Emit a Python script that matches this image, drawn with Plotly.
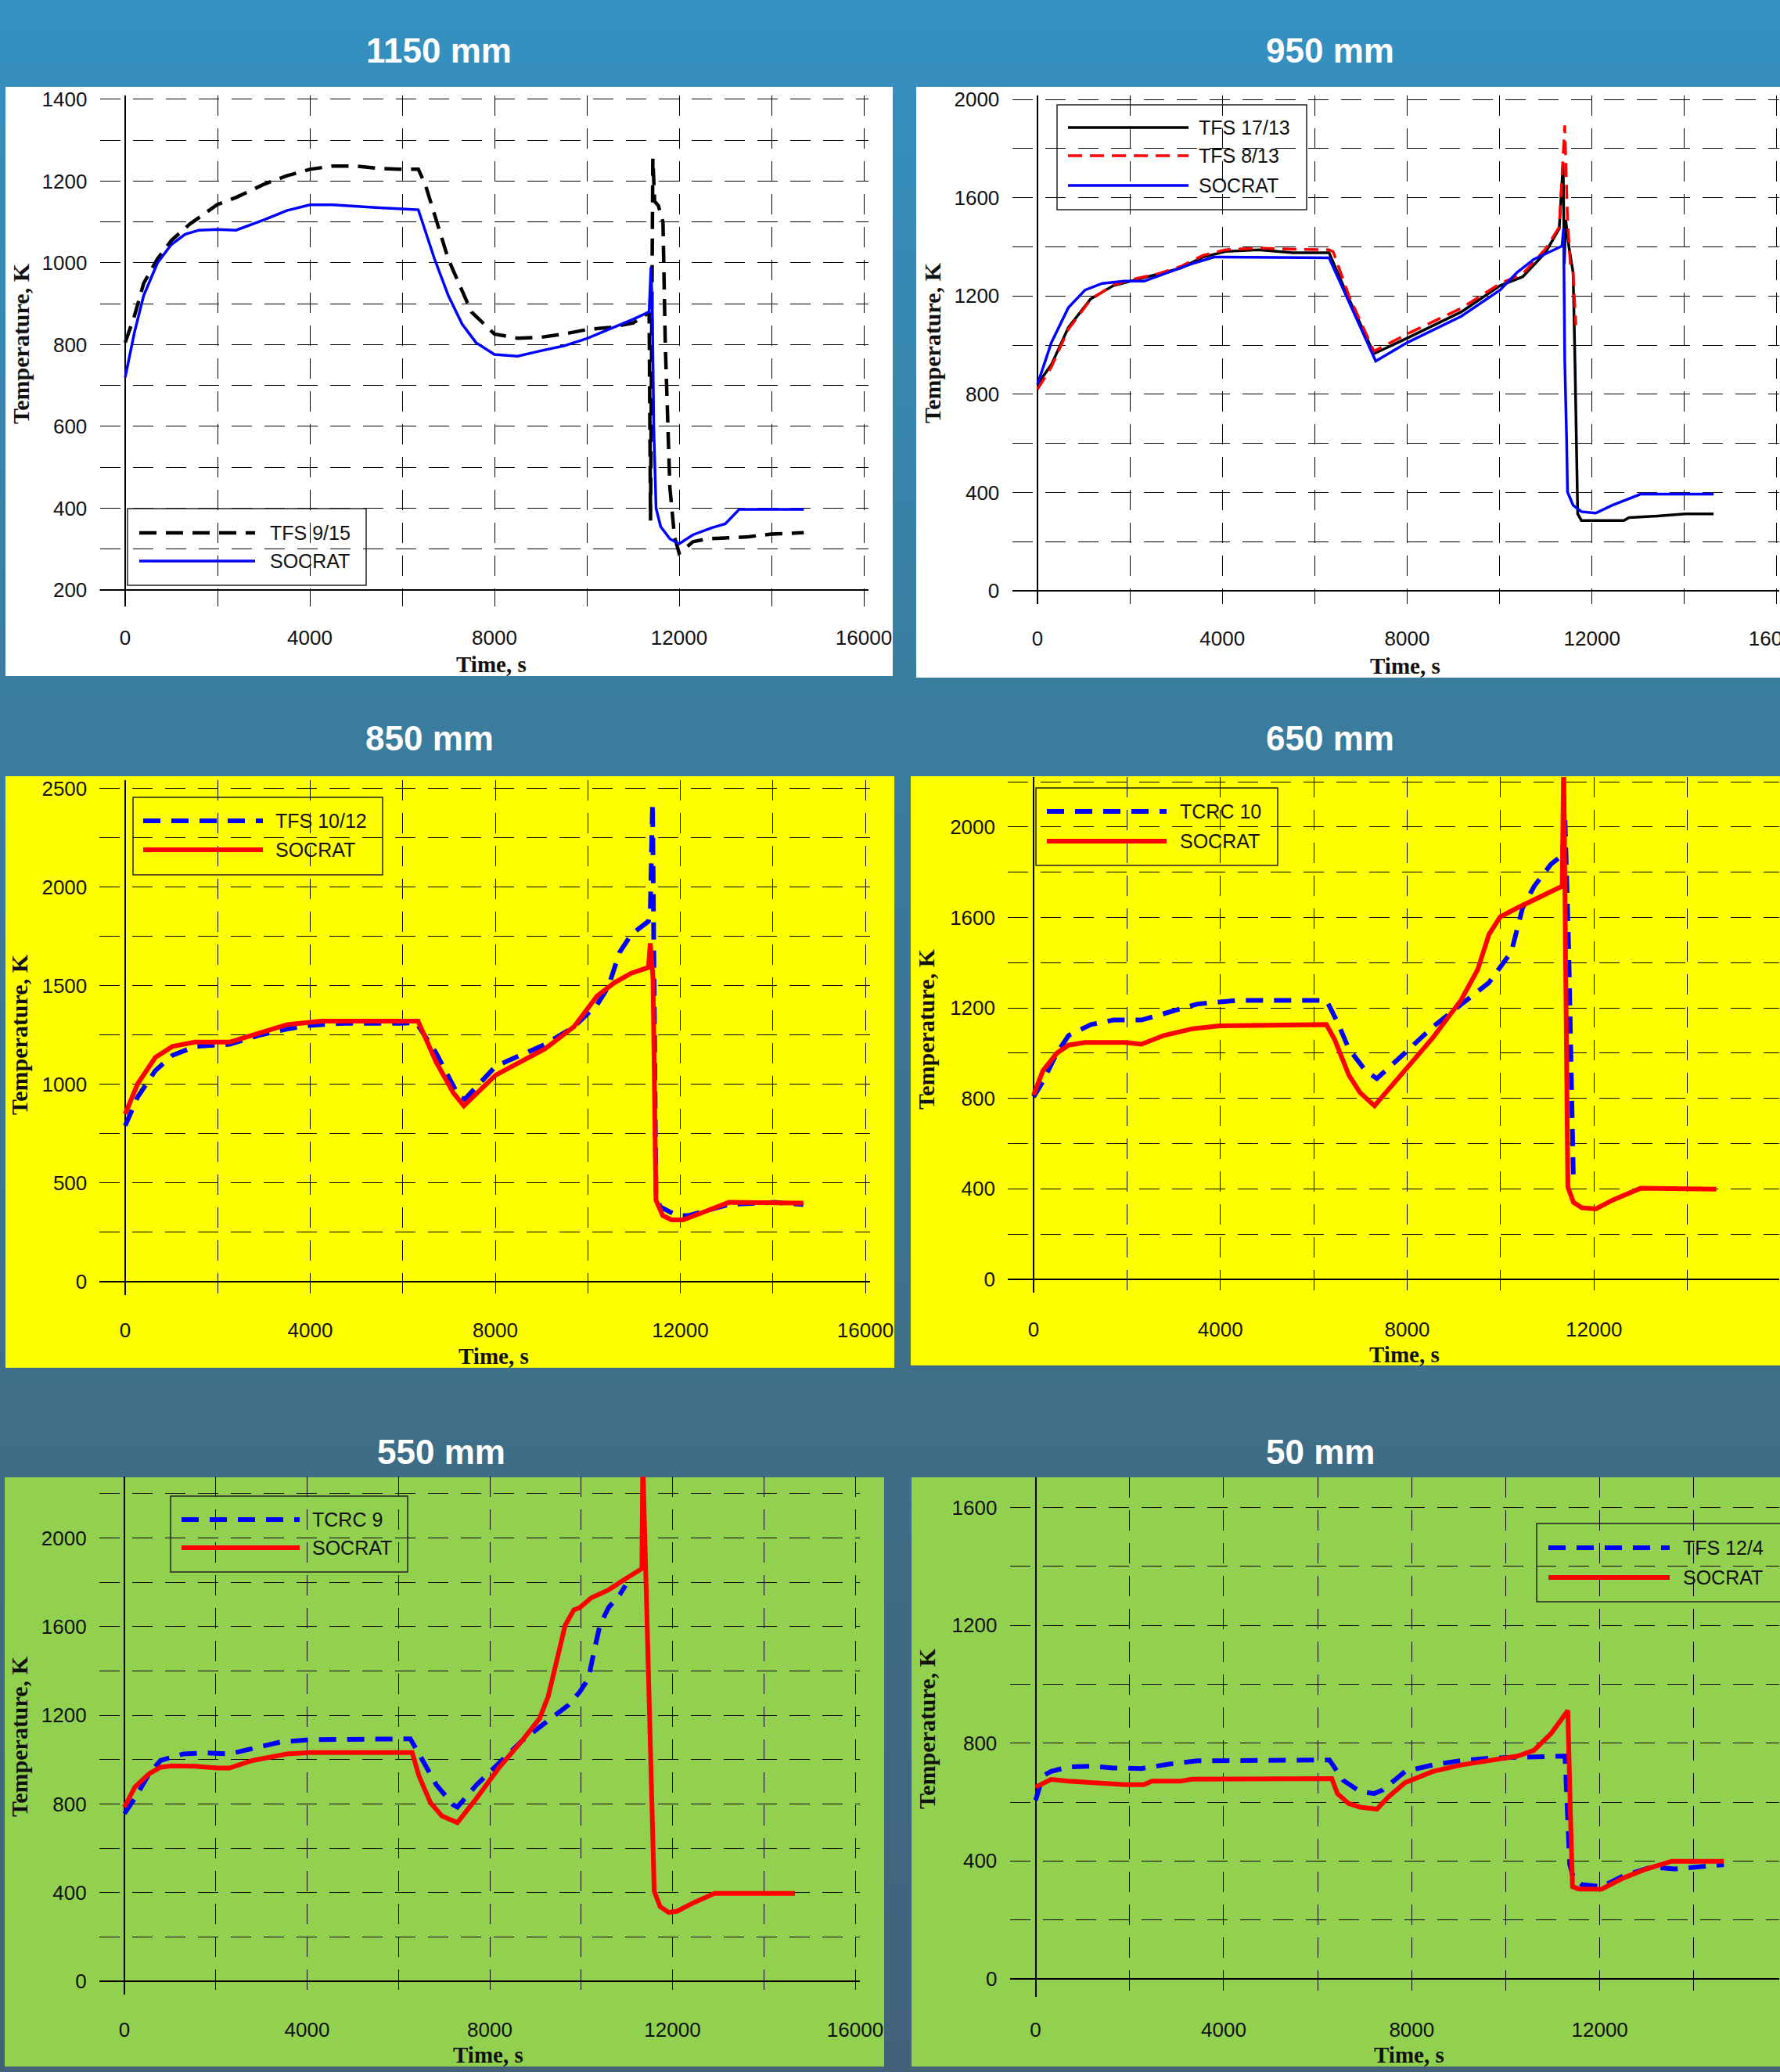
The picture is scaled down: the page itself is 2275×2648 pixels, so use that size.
import plotly.graph_objects as go

# ---------------- DATA ----------------
# 1150 mm
p1_tfs_t = [0,200,400,700,1000,1400,2000,2400,3000,3500,4000,4500,5000,5500,6000,6350,6500,7000,7500,8000,8500,9000,9500,10000,10500,11000,11300,11350,11380,11400,11430,11470,11550,11650,11700,11800,11900,12000,12100,12300,12600,13000,13500,14000,14700]
p1_tfs_T = [805,870,950,1010,1055,1095,1143,1160,1192,1213,1229,1237,1237,1231,1229,1229,1192,1009,880,826,816,818,826,837,842,853,875,880,370,900,1255,1150,1140,1100,800,450,330,290,300,318,325,328,330,337,340]
p1_soc_t = [0,200,400,700,1000,1300,1600,2000,2400,3000,3500,4000,4500,5000,5500,6000,6350,6700,7000,7300,7600,8000,8500,9000,9500,10000,10500,11000,11350,11390,11420,11450,11500,11600,11800,12000,12300,12700,13000,13300,14700]
p1_soc_T = [720,830,920,1000,1045,1070,1080,1082,1080,1105,1128,1142,1142,1138,1135,1132,1130,1010,920,850,805,776,772,785,797,815,838,862,880,990,880,600,400,355,325,313,335,352,362,397,397]

# 950 mm
p2_tfs17_t = [0,300,670,1150,1640,2120,2610,3100,3580,4070,4790,5520,6310,6740,7280,8000,9170,10010,10500,10990,11290,11375,11400,11430,11500,11590,11627,11690,11770,12690,12800,13410,14020,14630]
p2_tfs17_T = [840,920,1072,1188,1242,1265,1287,1313,1358,1381,1388,1376,1376,1188,965,1028,1135,1242,1278,1376,1474,1742,1331,1510,1400,1296,974,313,286,286,298,304,313,313]
p2_tfs8_t = [0,300,670,1150,1640,2120,2610,3100,3580,4070,4790,5520,6310,6400,6740,7280,8000,9170,10010,10500,10990,11290,11410,11470,11530,11590,11650]
p2_tfs8_T = [820,910,1065,1185,1245,1270,1290,1320,1365,1388,1395,1390,1388,1380,1200,975,1045,1150,1250,1290,1390,1480,1894,1510,1331,1296,1081]
p2_soc_t = [0,300,670,1030,1400,1880,2310,2850,3340,3820,4000,6310,7320,8000,9170,10010,10380,10740,11350,11385,11410,11450,11470,11590,11770,12080,12440,13050,14630]
p2_soc_T = [840,1010,1153,1224,1251,1260,1260,1296,1331,1358,1358,1355,935,1010,1117,1224,1296,1349,1403,1475,938,617,402,348,322,316,348,393,393]

# 850 mm
p3_tfs_t = [0,270,650,1020,1510,2010,2260,2880,3500,3990,4740,5980,6290,6720,7220,7340,8010,9080,9700,10200,10440,10690,10940,11310,11350,11400,11435,11473,11560,11930,12180,12680,13050,14040,14660]
p3_tfs_T = [790,936,1069,1147,1192,1203,1203,1248,1281,1299,1310,1310,1314,1159,936,924,1092,1203,1292,1404,1493,1671,1760,1827,1871,2428,1448,446,379,334,334,368,390,401,390]
p3_soc_t = [0,270,650,1020,1510,2260,2880,3500,4240,6230,6330,6720,7090,7320,8010,9080,9700,10200,10570,10940,11310,11350,11410,11473,11620,11810,12060,12550,13050,14660]
p3_soc_T = [850,1003,1136,1192,1214,1214,1259,1303,1321,1321,1321,1114,958,891,1047,1181,1292,1448,1515,1564,1593,1716,1537,412,334,312,312,356,401,397]

# 650 mm
p4_tcrc_t = [0,200,500,750,1230,1710,2310,2910,3510,4350,6270,6510,6750,7110,7350,7950,8550,9150,9750,10230,10470,10720,11080,11320,11380,11460,11530,11560]
p4_tcrc_T = [806,874,1000,1078,1126,1146,1146,1184,1217,1233,1233,1136,1019,922,887,1000,1116,1214,1311,1447,1641,1738,1835,1874,2029,1447,864,437]
p4_soc_t = [0,200,500,750,1100,1950,2310,2790,3390,3990,6270,6450,6750,6990,7300,7950,8550,9150,9510,9750,9990,10350,10840,11320,11350,11390,11440,11560,11740,12040,12400,13000,14620]
p4_soc_T = [815,922,1000,1035,1047,1047,1039,1078,1107,1120,1126,1058,903,825,767,922,1068,1233,1369,1524,1602,1641,1689,1738,2300,1200,408,340,316,311,350,402,398]

# 550 mm
p5_tcrc_t = [0,230,540,790,1300,1800,2300,2800,3430,4060,6260,6450,6830,7200,7290,7710,8210,8710,9210,9720,9970,10160,10280,10410,10600,10850,10970]
p5_tcrc_T = [756,826,936,996,1026,1030,1026,1050,1080,1090,1094,1026,886,796,786,886,986,1086,1166,1246,1306,1366,1486,1606,1686,1746,1786]
p5_soc_t = [0,230,540,790,1040,1550,2050,2300,2800,3180,3560,4060,6300,6450,6700,6950,7290,7710,8210,8710,9090,9280,9460,9650,9840,9970,10220,10600,10970,11330,11350,11450,11540,11600,11730,11920,12100,12480,12920,14680]
p5_soc_T = [786,876,936,966,972,970,962,962,996,1010,1026,1032,1032,926,806,746,716,826,966,1086,1186,1286,1446,1606,1676,1686,1730,1766,1816,1862,2350,1526,726,406,336,310,316,356,396,396]

# 50 mm
p6_tfs_t = [0,155,330,690,1170,1650,2250,2840,3440,4000,6250,6540,6900,7200,7380,7860,8450,9050,9650,10250,10840,11260,11320,11360,11440,11620,12040,12510,13110,13590,14070,14640]
p6_tfs_T = [606,689,704,719,722,716,714,729,740,740,743,674,636,629,641,704,726,741,749,752,756,756,538,388,343,320,313,350,380,373,380,388]
p6_soc_t = [0,330,690,1890,2300,2480,3080,3320,6300,6420,6660,6900,7260,7500,7860,8450,9050,9650,10250,10600,10960,11200,11320,11380,11420,11560,12040,12510,12990,13530,14640]
p6_soc_T = [651,677,671,659,659,671,671,678,680,629,595,583,576,617,666,704,726,741,756,776,832,884,911,538,313,305,305,343,373,399,399]

panel_titles = ["1150 mm", "950 mm", "850 mm", "650 mm", "550 mm", "50 mm"]
x_title = "Time, s"
y_title = "Temperature, K"

# ---------------- LAYOUT HELPERS ----------------
W, H = 2275, 2648
def fx(px): return px / W
def fy(py): return 1 - py / H

BLUE, RED, BLACK = "#0000ff", "#ff0000", "#000000"

panels = [
    dict(t0=160, t16=1104, va=1400, pa=127, vb=200, pb=754, xr=[-550, 16100], yr=[160, 1410],
         ystep=100, ylab=200, ytop=1400, ybot=200, xtl=17,
         box=(7, 111, 1141, 864), bg="#ffffff",
         title=(561, 64), xt=(628, 849), yt=(26, 439),
         series=[(p1_tfs_t, p1_tfs_T, "TFS 9/15", BLACK, 4.5, "22px,12px"),
                 (p1_soc_t, p1_soc_T, "SOCRAT", BLUE, 3.5, "solid")],
         leg=dict(box=(163, 650, 468, 748), ys=[681, 717], lx=(178, 326), tx=343)),
    dict(t0=1326, t16=2271, va=2000, pa=127, vb=0, pb=755, xr=[-550, 16050], yr=[-55, 2015],
         ystep=200, ylab=400, ytop=2000, ybot=0, xtl=21,
         box=(1171, 111, 2275, 866), bg="#ffffff",
         title=(1700, 64), xt=(1796, 851), yt=(1191, 438),
         series=[(p2_tfs17_t, p2_tfs17_T, "TFS 17/13", BLACK, 3.5, "solid"),
                 (p2_tfs8_t, p2_tfs8_T, "TFS 8/13", RED, 3.5, "18px,10px"),
                 (p2_soc_t, p2_soc_T, "SOCRAT", BLUE, 3.5, "solid")],
         leg=dict(box=(1351, 134, 1670, 268), ys=[163, 199, 237], lx=(1365, 1519), tx=1530)),
    dict(t0=160, t16=1106, va=2500, pa=1008, vb=0, pb=1637.6, xr=[-550, 16100], yr=[-70, 2545],
         ystep=250, ylab=500, ytop=2500, ybot=0, xtl=22,
         box=(7, 992, 1143, 1748), bg="#ffff00",
         title=(549, 944), xt=(631, 1733), yt=(24, 1322),
         series=[(p3_tfs_t, p3_tfs_T, "TFS 10/12", BLUE, 6, "22px,14px"),
                 (p3_soc_t, p3_soc_T, "SOCRAT", RED, 6, "solid")],
         leg=dict(box=(170, 1019, 489, 1118), ys=[1049, 1086], lx=(183, 336), tx=350)),
    dict(t0=1321, t16=2276, va=2000, pa=1056.8, vb=0, pb=1634.8, xr=[-550, 15960], yr=[-60, 2221],
         ystep=200, ylab=400, ytop=2200, ybot=0, xtl=24,
         box=(1164, 992, 2275, 1745), bg="#ffff00",
         title=(1700, 944), xt=(1795, 1731), yt=(1183, 1315),
         series=[(p4_tcrc_t, p4_tcrc_T, "TCRC 10", BLUE, 6, "22px,14px"),
                 (p4_soc_t, p4_soc_T, "SOCRAT", RED, 6, "solid")],
         leg=dict(box=(1324, 1007, 1633, 1106), ys=[1037, 1075], lx=(1338, 1491), tx=1506)),
    dict(t0=159, t16=1093, va=2000, pa=1965.6, vb=0, pb=2532, xr=[-550, 16100], yr=[-60, 2277],
         ystep=200, ylab=400, ytop=2200, ybot=0, xtl=22,
         box=(6, 1888, 1130, 2641), bg="#92d050",
         title=(564, 1855), xt=(624, 2626), yt=(24, 2219),
         series=[(p5_tcrc_t, p5_tcrc_T, "TCRC 9", BLUE, 6, "22px,14px"),
                 (p5_soc_t, p5_soc_T, "SOCRAT", RED, 6, "solid")],
         leg=dict(box=(218, 1912, 521, 2009), ys=[1942, 1978], lx=(232, 383), tx=397)),
    dict(t0=1323.6, t16=2285, va=1600, pa=1926.5, vb=0, pb=2529, xr=[-550, 15814], yr=[-60, 1702],
         ystep=200, ylab=400, ytop=1600, ybot=0, xtl=19,
         box=(1165, 1888, 2275, 2641), bg="#92d050",
         title=(1687, 1855), xt=(1801, 2626), yt=(1184, 2209),
         series=[(p6_tfs_t, p6_tfs_T, "TFS 12/4", BLUE, 6, "22px,14px"),
                 (p6_soc_t, p6_soc_T, "SOCRAT", RED, 6, "solid")],
         leg=dict(box=(1964, 1947, 2290, 2047), ys=[1978, 2016], lx=(1979, 2134), tx=2149)),
]

fig = go.Figure()
shapes = []
annotations = []

# background gradient (vertical bands)
stops = [(0, (53, 145, 193)), (900, (58, 125, 158)), (1800, (62, 110, 136)), (2648, (66, 98, 122))]
def bgcol(py):
    for (y0, c0), (y1, c1) in zip(stops[:-1], stops[1:]):
        if y0 <= py <= y1:
            f = (py - y0) / (y1 - y0)
            return "rgb(%d,%d,%d)" % tuple(round(a + (b - a) * f) for a, b in zip(c0, c1))
    return "rgb(66,98,122)"
NB = 66
for i in range(NB):
    y0 = H * i / NB
    y1 = H * (i + 1) / NB + 1
    shapes.append(dict(type="rect", xref="paper", yref="paper", x0=0, x1=1, y0=fy(y1), y1=fy(y0),
                       fillcolor=bgcol((y0 + y1) / 2), line=dict(width=0), layer="below"))

tickfont = dict(family="Liberation Sans, Arial, sans-serif", size=26, color="#111111")
layout_axes = {}
for i, p in enumerate(panels, start=1):
    sx = (p["t16"] - p["t0"]) / 16000
    x_lo = p["t0"] + p["xr"][0] * sx
    x_hi = p["t0"] + p["xr"][1] * sx
    sy = (p["pb"] - p["pa"]) / (p["vb"] - p["va"])
    y_top = p["pa"] + (p["yr"][1] - p["va"]) * sy
    y_bot = p["pa"] + (p["yr"][0] - p["va"]) * sy
    xa = "xaxis" if i == 1 else f"xaxis{i}"
    ya = "yaxis" if i == 1 else f"yaxis{i}"
    xref = "x" if i == 1 else f"x{i}"
    yref = "y" if i == 1 else f"y{i}"

    # panel background
    bx0, by0, bx1, by1 = p["box"]
    shapes.append(dict(type="rect", xref="paper", yref="paper", x0=fx(bx0), x1=fx(bx1),
                       y0=fy(by1), y1=fy(by0), fillcolor=p["bg"], line=dict(width=0), layer="below"))

    xt_vals = list(range(0, 16001, 2000))
    xt_text = [str(v) if v % 4000 == 0 else "" for v in xt_vals]
    yt_vals = list(range(p["ybot"], p["ytop"] + 1, p["ystep"]))
    yt_text = [str(v) if v % p["ylab"] == 0 else "" for v in yt_vals]

    layout_axes[xa] = dict(domain=[fx(x_lo), fx(x_hi)], range=p["xr"], anchor=yref,
                           tickvals=xt_vals, ticktext=xt_text, showgrid=True,
                           gridcolor="#000000", gridwidth=1.4, griddash="26px,16px",
                           zeroline=True, zerolinecolor="#000000", zerolinewidth=1.8,
                           showline=False, ticks="outside", ticklen=p["xtl"],
                           tickcolor="rgba(0,0,0,0)", tickfont=tickfont, automargin=False,
                           ticklabeloverflow="allow", fixedrange=True)
    layout_axes[ya] = dict(domain=[fy(y_bot), fy(y_top)], range=p["yr"], anchor=xref,
                           tickvals=yt_vals, ticktext=yt_text, showgrid=True,
                           gridcolor="#000000", gridwidth=1.4, griddash="26px,16px",
                           zeroline=True, zerolinecolor="#000000", zerolinewidth=1.8,
                           showline=False, ticks="outside", ticklen=10,
                           tickcolor="rgba(0,0,0,0)", tickfont=tickfont, automargin=False,
                           ticklabeloverflow="allow", fixedrange=True)
    if p["ybot"] != 0:
        shapes.append(dict(type="line", xref=f"{xref} domain", yref=yref, x0=0, x1=1,
                           y0=p["ybot"], y1=p["ybot"], line=dict(color="#000000", width=1.8),
                           layer="above"))

    for (tx, ty, name, col, wid, dash) in p["series"]:
        fig.add_trace(go.Scatter(x=tx, y=ty, mode="lines", name=name, showlegend=False,
                                 line=dict(color=col, width=wid, dash=dash),
                                 xaxis=xref, yaxis=yref, hoverinfo="skip"))

    # manual legend
    lg = p["leg"]
    lx0, ly0, lx1, ly1 = lg["box"]
    shapes.append(dict(type="rect", xref="paper", yref="paper", x0=fx(lx0), x1=fx(lx1),
                       y0=fy(ly1), y1=fy(ly0), line=dict(color="#222222", width=1.5),
                       fillcolor="rgba(0,0,0,0)", layer="above"))
    for (tx, ty, name, col, wid, dash), yy in zip(p["series"], lg["ys"]):
        shapes.append(dict(type="line", xref="paper", yref="paper", x0=fx(lg["lx"][0]),
                           x1=fx(lg["lx"][1]), y0=fy(yy), y1=fy(yy),
                           line=dict(color=col, width=wid, dash=dash), layer="above"))
        annotations.append(dict(xref="paper", yref="paper", x=fx(lg["tx"]), y=fy(yy),
                                xanchor="left", yanchor="middle", text=name, showarrow=False,
                                font=dict(family="Liberation Sans, Arial, sans-serif", size=25,
                                          color="#111111")))

    # titles
    annotations.append(dict(xref="paper", yref="paper", x=fx(p["title"][0]), y=fy(p["title"][1]),
                            xanchor="center", yanchor="middle", text=f"<b>{panel_titles[i-1]}</b>",
                            showarrow=False,
                            font=dict(family="Liberation Sans, Arial, sans-serif", size=44,
                                      color="#ffffff")))
    annotations.append(dict(xref="paper", yref="paper", x=fx(p["xt"][0]), y=fy(p["xt"][1]),
                            xanchor="center", yanchor="middle", text=f"<b>{x_title}</b>",
                            showarrow=False,
                            font=dict(family="Liberation Serif, Times New Roman, serif", size=29,
                                      color="#111111")))
    annotations.append(dict(xref="paper", yref="paper", x=fx(p["yt"][0]), y=fy(p["yt"][1]),
                            xanchor="center", yanchor="middle", text=f"<b>{y_title}</b>",
                            textangle=-90, showarrow=False,
                            font=dict(family="Liberation Serif, Times New Roman, serif", size=30,
                                      color="#111111")))

fig.update_layout(width=W, height=H,
                  margin=dict(l=0, r=0, t=0, b=0, pad=0, autoexpand=False),
                  paper_bgcolor="#3f6c8c", plot_bgcolor="rgba(0,0,0,0)",
                  shapes=shapes, annotations=annotations, showlegend=False,
                  **layout_axes)

fig.write_html("out.html", config={"displayModeBar": False},
               post_script="document.body.style.margin='0';document.body.style.overflow='hidden';")
